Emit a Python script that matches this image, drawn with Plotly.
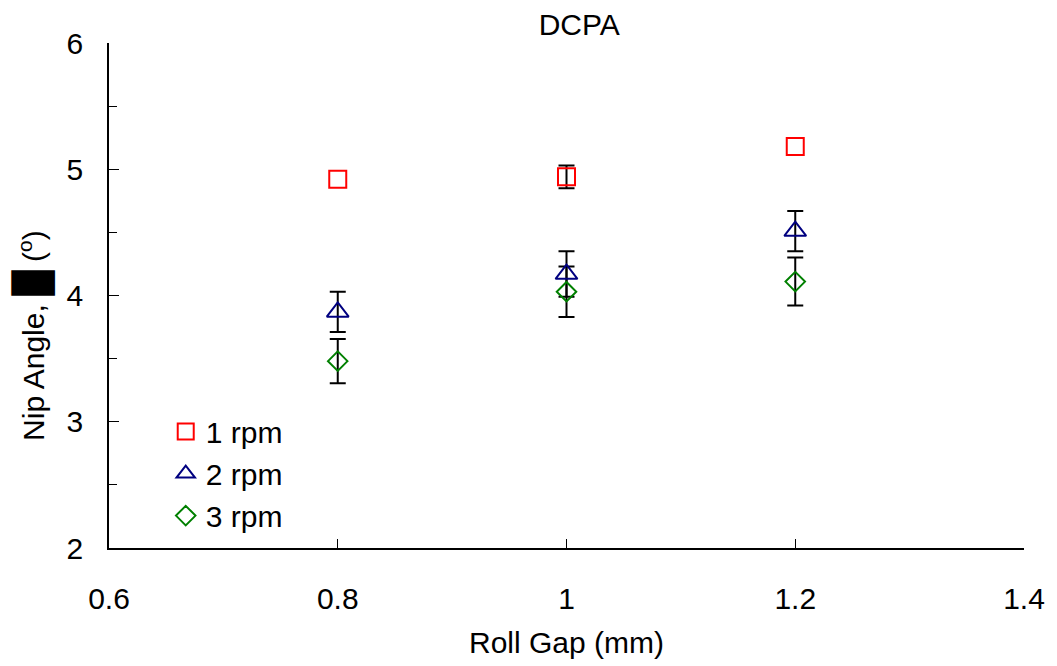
import plotly.graph_objects as go

# Roll gap settings (mm)
roll_gap = [0.8, 1.0, 1.2]

# Nip angle means and standard deviations per roll speed
nip_1rpm = [4.92, 4.94, 5.18]
err_1rpm = [None, 0.09, None]

nip_2rpm = [3.87, 4.17, 4.51]
err_2rpm = [0.16, 0.18, 0.16]

nip_3rpm = [3.48, 4.03, 4.11]
err_3rpm = [0.175, 0.20, 0.19]

series_names = ["1 rpm", "2 rpm", "3 rpm"]

FONT = "Liberation Sans, Arial, sans-serif"

fig = go.Figure()

series = [
    (series_names[0], nip_1rpm, err_1rpm, "square-open", "#FF0000", 17),
    (series_names[1], nip_2rpm, err_2rpm, "triangle-up-open", "#000080", 19),
    (series_names[2], nip_3rpm, err_3rpm, "diamond-open", "#008000", 15),
]

# error bars first (only where a deviation was measured), markers on top
for name, y, err, symbol, color, size in series:
    idx = [i for i, e in enumerate(err) if e is not None]
    if idx:
        fig.add_trace(go.Scatter(
            x=[roll_gap[i] for i in idx], y=[y[i] for i in idx],
            mode="markers", showlegend=False, hoverinfo="skip",
            marker=dict(size=1, color="rgba(0,0,0,0)"),
            error_y=dict(type="data", array=[err[i] for i in idx],
                         visible=True, color="black", thickness=2, width=8),
        ))

for name, y, err, symbol, color, size in series:
    fig.add_trace(go.Scatter(
        x=roll_gap, y=y, name=name, mode="markers",
        marker=dict(symbol=symbol, size=size, color=color,
                    line=dict(color=color, width=2)),
    ))

fig.update_layout(
    width=1057, height=666,
    paper_bgcolor="white", plot_bgcolor="white",
    margin=dict(l=109, r=30, t=43, b=114),
    font=dict(family=FONT, size=30, color="black"),
    title=dict(text="DCPA", x=0.548, xref="container", xanchor="center",
               y=1 - 24 / 666, yref="container", yanchor="middle",
               font=dict(family=FONT, size=30, color="black")),
    showlegend=True,
    legend=dict(x=0.062, y=0.282, xanchor="left", yanchor="top",
                bgcolor="rgba(0,0,0,0)", font=dict(family=FONT, size=30),
                tracegroupgap=0),
)

fig.update_xaxes(
    range=[0.6, 1.4], tickvals=[0.6, 0.8, 1.0, 1.2, 1.4],
    ticktext=["0.6", "0.8", "1", "1.2", "1.4"],
    showgrid=False, zeroline=False,
    showline=True, linecolor="black", linewidth=1.5,
    ticks="inside", ticklen=9, tickwidth=1.3, tickcolor="black",
    ticklabelstandoff=23,
    title=dict(text="Roll Gap (mm)", standoff=18,
               font=dict(family=FONT, size=30)),
)

fig.update_yaxes(
    range=[2, 6], tickvals=[2, 3, 4, 5, 6],
    showgrid=False, zeroline=False,
    showline=True, linecolor="black", linewidth=1.5,
    ticks="inside", ticklen=10, tickwidth=1.3, tickcolor="black",
    minor=dict(ticks="inside", ticklen=8, tickwidth=1.3, tickcolor="black",
               tickvals=[2.5, 3.5, 4.5, 5.5], showgrid=False),
    ticklabelstandoff=18,
)

# y-axis title placed as rotated text
fig.add_annotation(
    text='Nip Angle, <span style="font-size:36px">█</span> (<sup>o</sup>)',
    xref="paper", yref="paper", x=-0.083, y=0.42,
    xanchor="center", yanchor="middle", textangle=-90, showarrow=False,
    font=dict(family=FONT, size=30, color="black"),
)

fig.write_html("out.html")
